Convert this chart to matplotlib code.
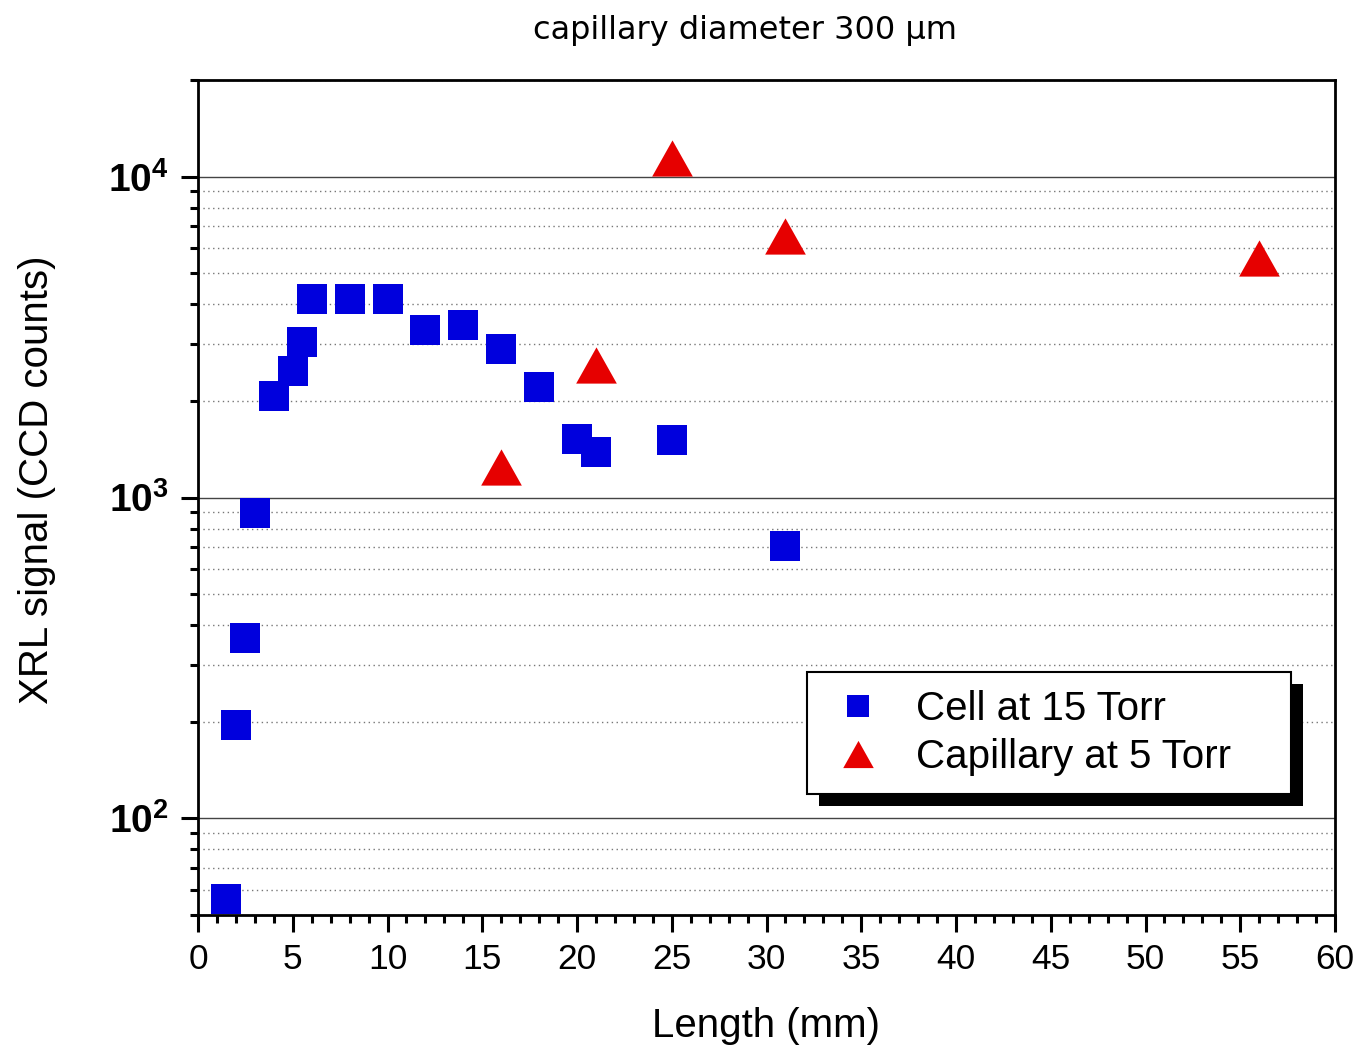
import math
import matplotlib
matplotlib.use("Agg")
import matplotlib.pyplot as plt
from matplotlib.ticker import MultipleLocator, LogLocator, FuncFormatter, NullFormatter
from matplotlib.lines import Line2D
from matplotlib.patches import Rectangle

# ---- data ----
cell_x = [1.5, 2, 2.5, 3, 4, 5, 5.5, 6, 8, 10, 12, 14, 16, 18, 20, 21, 25, 31]
cell_y = [56, 196, 365, 894, 2072, 2487, 3046, 4145, 4145, 4145, 3326, 3459, 2904, 2212, 1526, 1390, 1506, 706]
cap_x = [16, 21, 25, 31, 56]
cap_y = [1247, 2591, 11440, 6520, 5578]
series_labels = ["Cell at 15 Torr", "Capillary at 5 Torr"]
title = "capillary diameter 300 \u03bcm"
xlabel = "Length (mm)"
ylabel = "XRL signal (CCD counts)"

plt.rcParams['font.family'] = ['Liberation Sans', 'DejaVu Sans']
plt.rcParams['mathtext.fontset'] = 'custom'
plt.rcParams['mathtext.rm'] = 'Liberation Sans'
plt.rcParams['mathtext.bf'] = 'Liberation Sans:bold'
plt.rcParams['mathtext.it'] = 'Liberation Sans:italic'

W, H = 1357, 1048
fig = plt.figure(figsize=(W / 100, H / 100), dpi=100)
ax = fig.add_axes([198 / W, 1 - 915 / H, (1335 - 198) / W, (915 - 80) / H])

BLUE = '#0000dd'
RED = '#e60000'
tri = [(-1, -0.89), (1, -0.89), (0, 0.89)]

ax.plot(cell_x, cell_y, linestyle='none', marker='s', markersize=21.6,
        color=BLUE, markeredgewidth=0, clip_on=False, zorder=5)
ax.plot(cap_x, cap_y, linestyle='none', marker=tri, markersize=29.3,
        color=RED, markeredgewidth=0, clip_on=False, zorder=5)

ax.set_yscale('log')
ax.set_xlim(0, 60)
ax.set_ylim(50, 20000)

ax.xaxis.set_major_locator(MultipleLocator(5))
ax.xaxis.set_minor_locator(MultipleLocator(1))
ax.yaxis.set_major_locator(LogLocator(base=10, numticks=10))
ax.yaxis.set_minor_locator(LogLocator(base=10, subs=range(2, 10), numticks=30))
ax.yaxis.set_major_formatter(FuncFormatter(lambda v, p: r'$\mathbf{10^{%d}}$' % round(math.log10(v))))
ax.yaxis.set_minor_formatter(NullFormatter())

ax.grid(True, which='major', axis='y', color='#444444', linewidth=1.0, linestyle='-')
ax.grid(True, which='minor', axis='y', color='#777777', linewidth=1.0, linestyle=(0, (1, 2.5)))
ax.set_axisbelow(True)

for s in ax.spines.values():
    s.set_linewidth(2.0)
    s.set_color('black')

ax.tick_params(axis='both', which='major', direction='out', length=12, width=2.2)
ax.tick_params(axis='both', which='minor', direction='out', length=6, width=2.2)
ax.tick_params(axis='x', which='major', labelsize=25.5, pad=8)
ax.tick_params(axis='y', which='major', labelsize=28, pad=9)

ax.set_xlabel(xlabel, fontsize=29)
ax.set_ylabel(ylabel, fontsize=29)
ax.xaxis.set_label_coords(0.5, -0.11)
ax.yaxis.set_label_coords(-0.125, 0.521)

fig.text(745 / W, 1 - 30 / H, title, fontsize=23, family=['DejaVu Sans'],
         ha='center', va='center')

handles = [
    Line2D([], [], linestyle='none', marker='s', markersize=16, color=BLUE, markeredgewidth=0),
    Line2D([], [], linestyle='none', marker=tri, markersize=22, color=RED, markeredgewidth=0),
]
leg = ax.legend(handles, series_labels, loc='upper left',
                bbox_to_anchor=(807 / W, 1 - 794 / H, (1291 - 807) / W, (794 - 672) / H),
                bbox_transform=fig.transFigure, mode='expand', borderaxespad=0,
                fontsize=29, frameon=True, fancybox=False, framealpha=1,
                edgecolor='black', handlelength=1.65, handletextpad=0.6,
                labelspacing=0.25, borderpad=0.45)
leg.get_frame().set_linewidth(1.5)
leg.set_zorder(10)

fig.canvas.draw()
bb = leg.get_frame().get_window_extent(fig.canvas.get_renderer())
off = 12
shadow = Rectangle(((bb.x0 + off) / W, (bb.y0 - off) / H), bb.width / W, bb.height / H,
                   transform=fig.transFigure, facecolor='black', edgecolor='none',
                   zorder=9, clip_on=False)
ax.add_artist(shadow)

fig.savefig('out.png', dpi=100)
